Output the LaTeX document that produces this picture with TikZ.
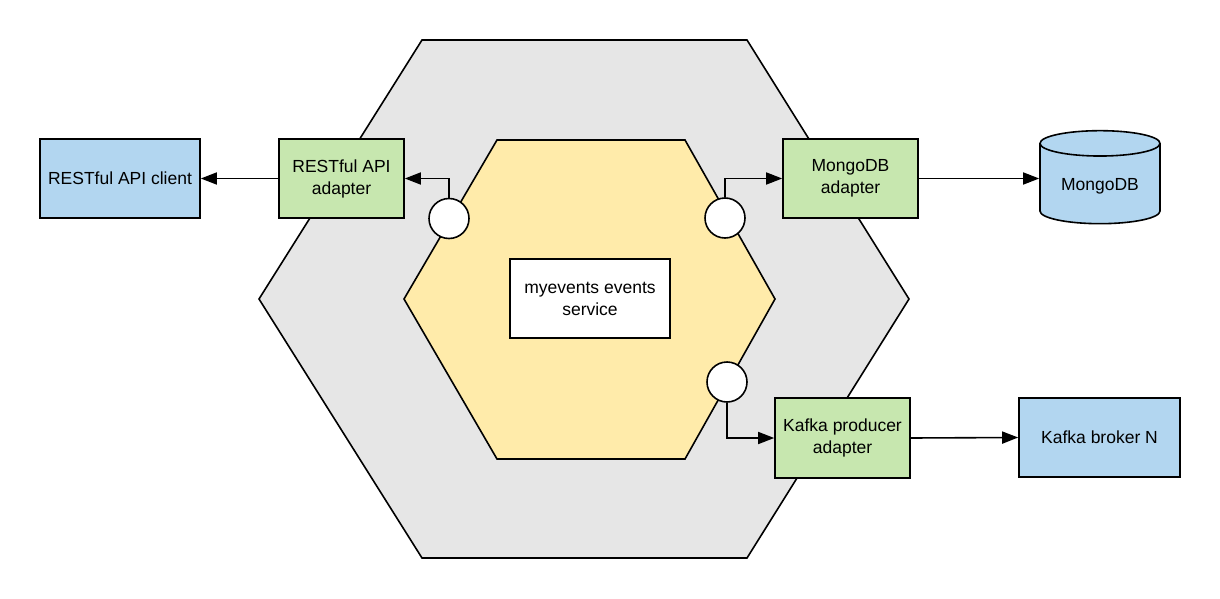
\documentclass[tikz,border=0pt]{standalone}
\usepackage{fontspec}
\setmainfont{Liberation Sans}
\usetikzlibrary{arrows.meta,shapes.geometric}

\definecolor{hexGray}{HTML}{E6E6E6}
\definecolor{hexYellow}{HTML}{FFEBAA}
\definecolor{boxGreen}{HTML}{C7E7AF}
\definecolor{boxBlue}{HTML}{B2D6F0}

\begin{document}
\begin{tikzpicture}
[x=1pt,y=-1pt,
  boxDecorate/.style={shape=rectangle,draw,line width=1.6pt,align=center,
    font=\fontsize{17.5}{22}\selectfont,inner sep=2pt},
  portDecorate/.style={shape=circle,draw,line width=1.6pt,fill=white,
    minimum size=40pt,inner sep=0pt},
  lineDecorate/.style={-{Triangle[length=16pt,width=12pt]},line width=1.6pt}]
\useasboundingbox (0,0) rectangle (1220,599);
%% hexagons
\draw[line width=1.6pt,fill=hexGray]
  (422,40) -- (747,40) -- (909,299) -- (747,558) -- (422,558) -- (259,299) -- cycle;
\draw[line width=1.6pt,fill=hexYellow]
  (497,140) -- (685,140) -- (775,299) -- (685,459) -- (497,459) -- (404,299) -- cycle;
%% boxes
\foreach \nodename/\x/\y/\w/\h/\col/\txt in {
  service/590/298.5/160/79/white/{myevents events\\service},
  client/120/178.5/160/79/boxBlue/{RESTful API client},
  restad/341.5/178.5/125/79/boxGreen/{RESTful API\\adapter},
  mongoad/850.5/178.5/135/79/boxGreen/{MongoDB\\adapter},
  kafkaad/842.5/438/135/80/boxGreen/{Kafka producer\\adapter},
  broker/1099.5/437.5/161/79/boxBlue/{Kafka broker N}}
{
  \node (\nodename) at (\x,\y) [boxDecorate,fill=\col,
    minimum width=\w pt,minimum height=\h pt] {\txt};
}
\node (mongo) at (1100,186) [shape=cylinder,shape border rotate=90,aspect=0.3,
  draw,line width=1.6pt,fill=boxBlue,minimum width=120pt,minimum height=93pt,
  font=\fontsize{17.5}{22}\selectfont] {MongoDB};
%% ports
\foreach \nodename/\x/\y in {p1/449/218.5, p2/725/218, p3/727/382}
{
  \node (\nodename) at (\x,\y) [portDecorate] {};
}
%% connectors
\draw[lineDecorate] (p1.north) |- (restad.east);
\draw[lineDecorate] (restad.west) -- (client.east);
\draw[lineDecorate] (p2.north) |- (mongoad.west);
\draw[lineDecorate] (mongoad.east) -- (mongo.west |- mongoad.east);
\draw[lineDecorate] (p3.south) |- (kafkaad.west);
\draw[lineDecorate] (kafkaad.east) -- (broker.west);
\end{tikzpicture}
\end{document}
